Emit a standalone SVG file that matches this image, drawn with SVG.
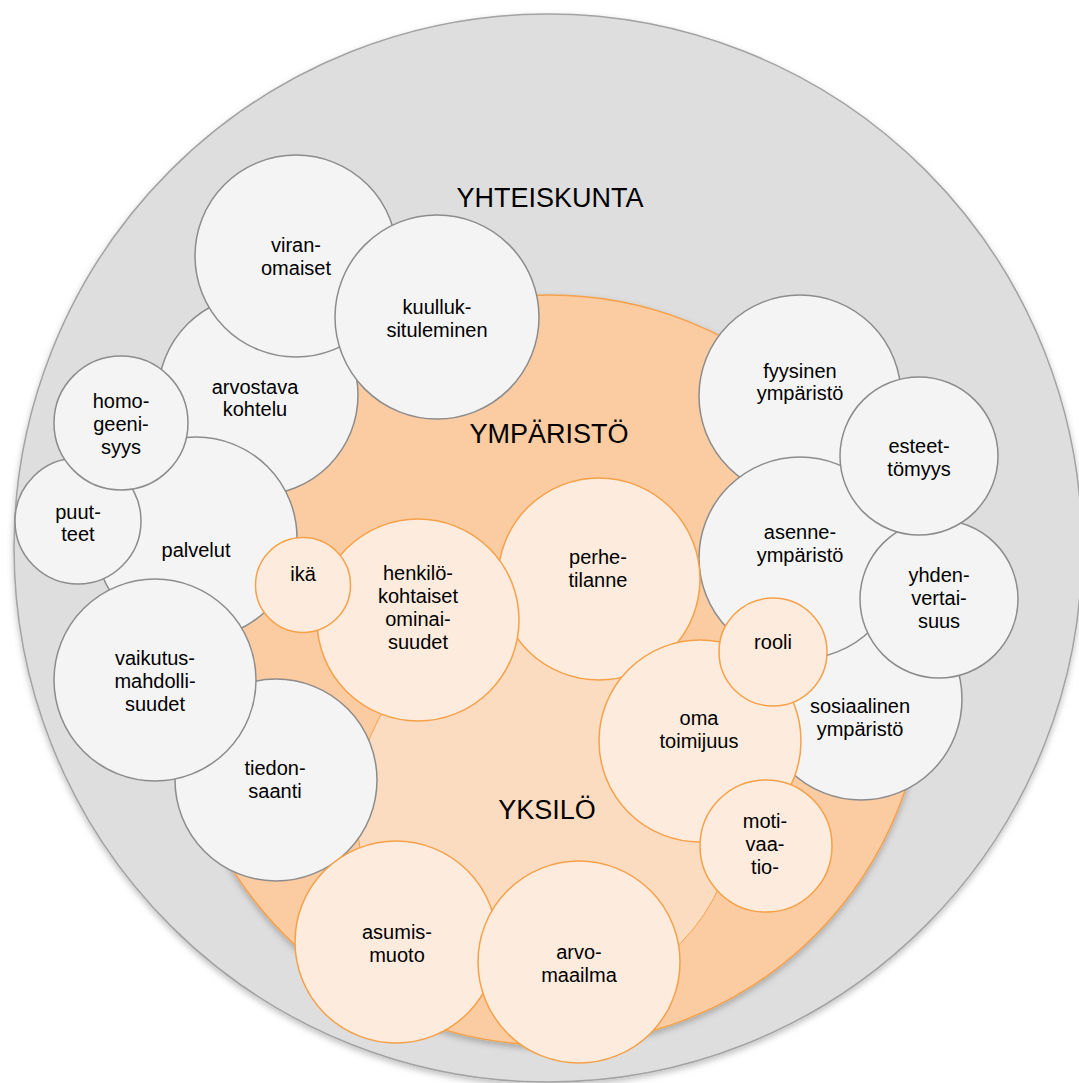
<svg xmlns="http://www.w3.org/2000/svg" width="1079" height="1083" viewBox="0 0 1079 1083">
<defs>
<style>
.g{fill:#f4f4f4;stroke:#8c8c8c;stroke-width:1.5}
.o{fill:#fdebdd;stroke:#f5a148;stroke-width:1.5}
text{font-family:"Liberation Sans",Arial,sans-serif;fill:#000;text-anchor:middle}
.t{font-size:20px}
.h{font-size:27px}
</style>
<filter id="sh" x="-10%" y="-10%" width="120%" height="120%">
<feDropShadow dx="0" dy="3" stdDeviation="3" flood-color="#000" flood-opacity="0.25"/>
</filter>
</defs>
<g id="yhteiskunta">
<circle cx="548" cy="548" r="534" fill="#dedede" stroke="#a3a3a3" stroke-width="1.5" filter="url(#sh)"/>
<text class="h" x="550" y="207">YHTEISKUNTA</text>
</g>
<g id="ymparisto">
<circle cx="550" cy="670" r="375" fill="#fbcba1" stroke="#f5a148" stroke-width="1.5" filter="url(#sh)"/>
<text class="h" x="549" y="443">YMPÄRISTÖ</text>
</g>
<g id="yksilo">
<circle cx="546" cy="809" r="190" fill="#fcdcc1" stroke="#f5a148" stroke-width="1"/>
<text class="h" x="547" y="819">YKSILÖ</text>
</g>
<g id="arvostava"><circle class="g" cx="258" cy="395" r="100"/><text class="t" x="255" y="394">arvostava</text><text class="t" x="255" y="416">kohtelu</text></g>
<g id="viranomaiset"><circle class="g" cx="296" cy="256" r="101"/><text class="t" x="296" y="252">viran-</text><text class="t" x="296" y="275">omaiset</text></g>
<g id="kuulluksituleminen"><circle class="g" cx="437" cy="317" r="102"/><text class="t" x="437" y="314">kuulluk-</text><text class="t" x="437" y="337">situleminen</text></g>
<g id="palvelut"><circle class="g" cx="196" cy="538" r="101"/><text class="t" x="196" y="557">palvelut</text></g>
<g id="puutteet"><circle class="g" cx="78" cy="521" r="63"/><text class="t" x="78" y="519">puut-</text><text class="t" x="78" y="541">teet</text></g>
<g id="homogeenisyys"><circle class="g" cx="121" cy="423" r="67"/><text class="t" x="121" y="408">homo-</text><text class="t" x="121" y="431">geeni-</text><text class="t" x="121" y="454">syys</text></g>
<g id="tiedonsaanti"><circle class="g" cx="276" cy="780" r="101"/><text class="t" x="275" y="775">tiedon-</text><text class="t" x="275" y="798">saanti</text></g>
<g id="vaikutusmahdollisuudet"><circle class="g" cx="155" cy="680" r="101"/><text class="t" x="155" y="665">vaikutus-</text><text class="t" x="155" y="688">mahdolli-</text><text class="t" x="155" y="711">suudet</text></g>
<g id="fyysinen"><circle class="g" cx="800" cy="396" r="101"/><text class="t" x="800" y="378">fyysinen</text><text class="t" x="800" y="400">ympäristö</text></g>
<g id="sosiaalinen"><circle class="g" cx="861" cy="699" r="101"/><text class="t" x="860" y="713">sosiaalinen</text><text class="t" x="860" y="736">ympäristö</text></g>
<g id="asenne"><circle class="g" cx="800" cy="558" r="101"/><text class="t" x="800" y="539">asenne-</text><text class="t" x="800" y="562">ympäristö</text></g>
<g id="yhdenvertaisuus"><circle class="g" cx="939" cy="599" r="79"/><text class="t" x="939" y="582">yhden-</text><text class="t" x="939" y="605">vertai-</text><text class="t" x="939" y="628">suus</text></g>
<g id="esteettomyys"><circle class="g" cx="919" cy="456" r="79"/><text class="t" x="919" y="453">esteet-</text><text class="t" x="919" y="476">tömyys</text></g>
<g id="perhetilanne"><circle class="o" cx="599" cy="579" r="101"/><text class="t" x="598" y="564">perhe-</text><text class="t" x="598" y="587">tilanne</text></g>
<g id="henkilokohtaiset"><circle class="o" cx="418" cy="620" r="101"/><text class="t" x="418" y="580">henkilö-</text><text class="t" x="418" y="603">kohtaiset</text><text class="t" x="418" y="626">ominai-</text><text class="t" x="418" y="649">suudet</text></g>
<g id="ika"><circle class="o" cx="303" cy="585" r="47.5"/><text class="t" x="303" y="581">ikä</text></g>
<g id="omatoimijuus"><circle class="o" cx="700" cy="741" r="101"/><text class="t" x="699" y="725">oma</text><text class="t" x="699" y="748">toimijuus</text></g>
<g id="rooli"><circle class="o" cx="773" cy="652" r="54"/><text class="t" x="773" y="649">rooli</text></g>
<g id="motivaatio"><circle class="o" cx="766" cy="846" r="66"/><text class="t" x="765" y="828">moti-</text><text class="t" x="765" y="851">vaa-</text><text class="t" x="765" y="874">tio-</text></g>
<g id="asumismuoto"><circle class="o" cx="396" cy="942" r="101"/><text class="t" x="397" y="939">asumis-</text><text class="t" x="397" y="962">muoto</text></g>
<g id="arvomaailma"><circle class="o" cx="579" cy="962" r="101"/><text class="t" x="579" y="959">arvo-</text><text class="t" x="579" y="982">maailma</text></g>
<g id="connectors"></g>
</svg>
